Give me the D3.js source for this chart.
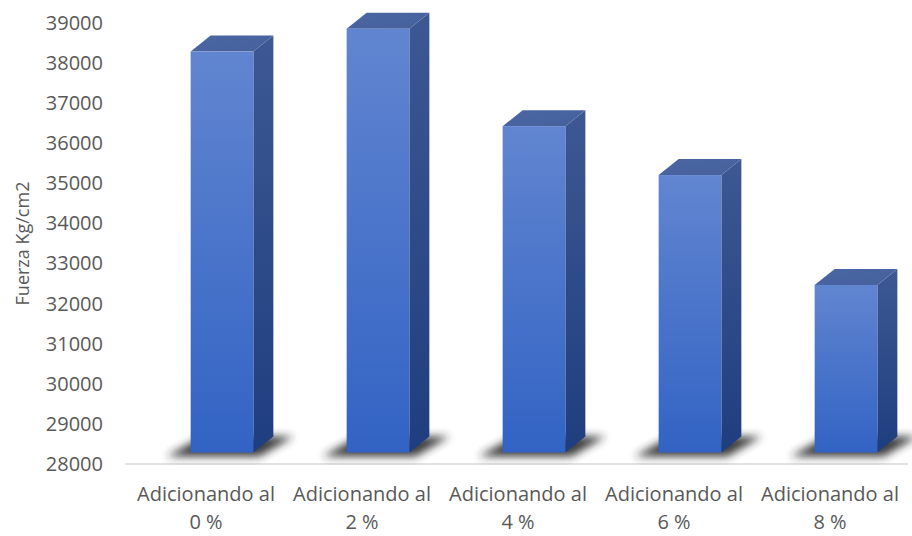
<!DOCTYPE html>
<html>
<head>
<meta charset="utf-8">
<script src="https://cdn.jsdelivr.net/npm/d3@7"></script>
<style>
  html, body { margin: 0; padding: 0; background: #ffffff; }
  svg { display: block; }
  text { font-family: "Open Sans", "Noto Sans", sans-serif; fill: #595959; }
</style>
</head>
<body>
<svg id="chart" width="912" height="536"></svg>
<script>
// Compressive strength per additive percentage
const categories = ["0 %", "2 %", "4 %", "6 %", "8 %"];
const categoryPrefix = "Adicionando al";
const strength = [38000, 38570, 36140, 34920, 32180];
const yTicks = [28000, 29000, 30000, 31000, 32000, 33000, 34000, 35000, 36000, 37000, 38000, 39000];
const yTitle = "Fuerza Kg/cm2";

const svg = d3.select("#chart");
const plot = { left: 128, right: 908, top: 23, bottom: 464 };

// 3D projection offsets: floor front edge -> bar front plane, front plane -> back plane
const depth1 = { dx: 16, dy: -11.5 };
const depth2 = { dx: 20, dy: -16 };

const x = d3.scaleBand().domain(categories).range([plot.left, plot.right]).paddingInner(0).paddingOuter(0);
const y = d3.scaleLinear().domain([28000, 39000]).range([plot.bottom, plot.top]);
const barW = x.bandwidth() * 0.402;

const defs = svg.append("defs");
const gFront = defs.append("linearGradient").attr("id", "gFront").attr("x1", 0).attr("y1", 0).attr("x2", 0).attr("y2", 1);
gFront.append("stop").attr("offset", "0%").attr("stop-color", "#6185d0");
gFront.append("stop").attr("offset", "100%").attr("stop-color", "#3263c4");
const gSide = defs.append("linearGradient").attr("id", "gSide").attr("x1", 0).attr("y1", 0).attr("x2", 0).attr("y2", 1);
gSide.append("stop").attr("offset", "0%").attr("stop-color", "#3d5893");
gSide.append("stop").attr("offset", "100%").attr("stop-color", "#1f3e7f");
const gTop = defs.append("linearGradient").attr("id", "gTop").attr("x1", 0).attr("y1", 0).attr("x2", 1).attr("y2", 1);
gTop.append("stop").attr("offset", "0%").attr("stop-color", "#4a66a3");
gTop.append("stop").attr("offset", "100%").attr("stop-color", "#46619c");
const blur = defs.append("filter").attr("id", "shadowBlur").attr("x", "-50%").attr("y", "-100%").attr("width", "200%").attr("height", "300%");
blur.append("feGaussianBlur").attr("stdDeviation", 4);

// Floor axis line
svg.append("line")
  .attr("x1", plot.left - 3).attr("x2", plot.right)
  .attr("y1", y(28000)).attr("y2", y(28000))
  .attr("stroke", "#d9d9d9").attr("stroke-width", 1.6);

// Value axis labels
const yAxis = d3.axisLeft(y).tickValues(yTicks).tickSize(0).tickPadding(22).tickFormat(d3.format("d"));
const yg = svg.append("g").attr("transform", `translate(${plot.left - 3},0)`).call(yAxis);
yg.select(".domain").remove();
yg.selectAll("text").style("font-size", "20px").attr("fill", "#595959")
  .style("font-family", "'Open Sans', sans-serif");

// Axis title
svg.append("text")
  .attr("transform", `translate(29,${(plot.top + plot.bottom) / 2}) rotate(-90)`)
  .attr("text-anchor", "middle")
  .style("font-size", "18px")
  .text(yTitle);

// Category labels (two lines)
const catLabels = svg.append("g").selectAll("text").data(categories).join("text")
  .attr("text-anchor", "middle")
  .style("font-size", "20px");
catLabels.append("tspan").attr("x", d => x(d) + x.bandwidth() / 2).attr("y", 501).text(categoryPrefix);
catLabels.append("tspan").attr("x", d => x(d) + x.bandwidth() / 2).attr("y", 529).text(d => d);

// Bars
const data = categories.map((c, i) => ({ c, v: strength[i] }));
const bars = svg.append("g").selectAll("g").data(data).join("g");

function geom(d) {
  const xl = x(d.c) + x.bandwidth() / 2 - barW / 2 + depth1.dx;
  const xr = xl + barW;
  const yb = y(28000) + depth1.dy;
  const yt = y(d.v) + depth1.dy;
  return { xl, xr, yb, yt };
}

// Floor shadow
bars.append("path")
  .attr("d", d => {
    const g = geom(d);
    return `M${g.xl - 24},${g.yb + 4} L${g.xr + 6},${g.yb + 4} L${g.xr + depth2.dx + 20},${g.yb + depth2.dy} L${g.xl + depth2.dx - 8},${g.yb + depth2.dy} Z`;
  })
  .attr("fill", "#262626").attr("opacity", 0.9)
  .attr("filter", "url(#shadowBlur)");

// Side face
bars.append("path")
  .attr("d", d => {
    const g = geom(d);
    return `M${g.xr},${g.yt} L${g.xr + depth2.dx},${g.yt + depth2.dy} L${g.xr + depth2.dx},${g.yb + depth2.dy} L${g.xr},${g.yb} Z`;
  })
  .attr("fill", "url(#gSide)");

// Top face
bars.append("path")
  .attr("d", d => {
    const g = geom(d);
    return `M${g.xl},${g.yt} L${g.xl + depth2.dx},${g.yt + depth2.dy} L${g.xr + depth2.dx},${g.yt + depth2.dy} L${g.xr},${g.yt} Z`;
  })
  .attr("fill", "url(#gTop)");

// Front face
bars.append("rect")
  .attr("x", d => geom(d).xl)
  .attr("y", d => geom(d).yt)
  .attr("width", barW)
  .attr("height", d => geom(d).yb - geom(d).yt)
  .attr("fill", "url(#gFront)");
</script>
</body>
</html>
